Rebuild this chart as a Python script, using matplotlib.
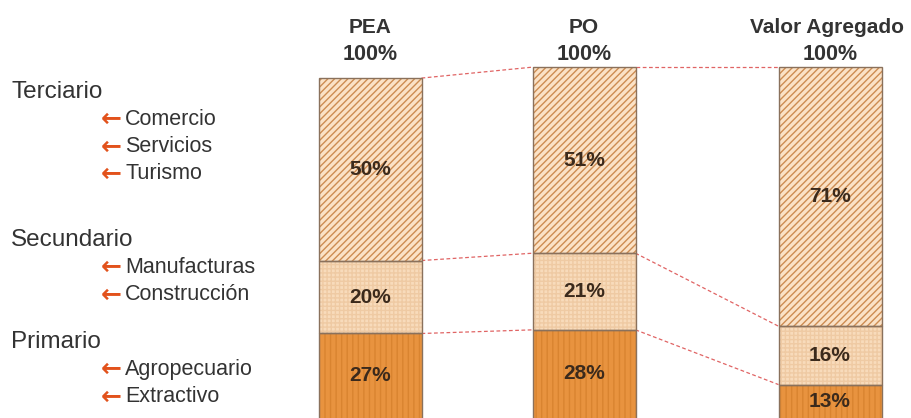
import matplotlib.pyplot as plt

# participación por sector (%)
indicadores = ['PEA', 'PO', 'Valor Agregado']
primario = [27, 28, 13]
secundario = [20, 21, 16]
terciario = [50, 51, 71]
totales = ['100%', '100%', '100%']

sectores = {
    'Terciario': ['Comercio', 'Servicios', 'Turismo'],
    'Secundario': ['Manufacturas', 'Construcción'],
    'Primario': ['Agropecuario', 'Extractivo'],
}

plt.rcParams['font.family'] = ['Liberation Sans', 'DejaVu Sans']
plt.rcParams['hatch.linewidth'] = 1.0

W, H = 911, 418
fig = plt.figure(figsize=(W / 100, H / 100), dpi=100)
ax = fig.add_axes([0, 0, 1, 1])
ax.set_xlim(0, W)
ax.set_ylim(3.84, 118.4)
ax.axis('off')

xs = [370, 584, 830]
ancho = 103

estilos = [
    # (relleno, color de trama, trama)
    ('#e8933f', '#d98430', '|||'),
    ('#f8dbbb', '#efcaa3', '++++'),
    ('#fbe2c6', '#cd8c52', '/////'),
]

base = [0, 0, 0]
limites = []
for serie, (fc, hc, h) in zip([primario, secundario, terciario], estilos):
    ax.bar(xs, serie, width=ancho, bottom=base, color=fc, edgecolor=hc,
           hatch=h, linewidth=0, zorder=2)
    ax.bar(xs, serie, width=ancho, bottom=base, fill=False,
           edgecolor='#8a715c', linewidth=1.0, zorder=3)
    for x, b, v in zip(xs, base, serie):
        yc = (max(b, 3.84) + b + v) / 2
        ax.text(x, yc, f'{v}%', ha='center', va='center', fontsize=15,
                fontweight='bold', color='#3b2a1c', zorder=4)
    base = [b + v for b, v in zip(base, serie)]
    limites.append(list(base))

# líneas punteadas entre barras
for niv in limites:
    for i in range(len(xs) - 1):
        ax.plot([xs[i] + ancho / 2, xs[i + 1] - ancho / 2], [niv[i], niv[i + 1]],
                color='#e06464', lw=0.9, ls=(0, (3, 2)), zorder=1)

# encabezados
for x, nombre, tot in zip(xs, indicadores, totales):
    xc = x - 3 if len(nombre) > 5 else x
    ax.text(xc, 111, nombre, ha='center', va='center', fontsize=15,
            fontweight='bold', color='#333333')
    ax.text(x, 103.4, tot, ha='center', va='center', fontsize=15.5,
            fontweight='bold', color='#333333')

# leyenda de sectores a la izquierda
def fy(py):
    return 1 - py / H

pos_sector = {'Terciario': 92, 'Secundario': 240, 'Primario': 342}
for sec, ramas in sectores.items():
    py = pos_sector[sec]
    fig.text(11 / W, fy(py), sec, ha='left', va='center', fontsize=17.5,
             color='#333333')
    for k, rama in enumerate(ramas):
        yy = fy(py + 27.3 * (k + 1))
        fig.text(101 / W, yy, '\u2190', ha='left', va='center', fontsize=18,
                 fontweight='bold', color='#e2521c', family='DejaVu Sans')
        fig.text(125 / W, yy, rama, ha='left', va='center', fontsize=15.5,
                 color='#333333')

fig.savefig('out.png', dpi=100)
